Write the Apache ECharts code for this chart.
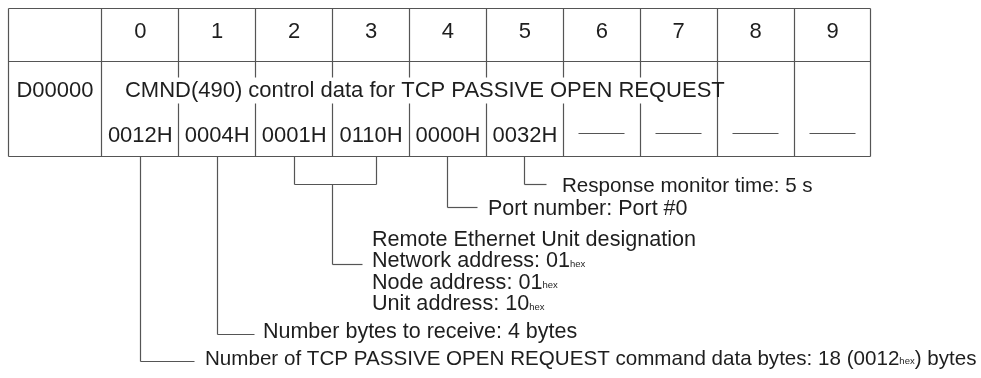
<!DOCTYPE html>
<html><head><meta charset="utf-8">
<script src="https://cdn.jsdelivr.net/npm/echarts@6/dist/echarts.min.js"></script>
<style>html,body{margin:0;padding:0;background:#fff}#c{width:981px;height:378px}</style>
</head><body><div id="c"></div>
<script>
// ---- content ----
const columnLabels = ['0','1','2','3','4','5','6','7','8','9'];
const registerLabel = 'D00000';
const controlDescription = 'CMND(490) control data for TCP PASSIVE OPEN REQUEST';
const descriptionColumns = 8;           // description spans word columns 0..7
const wordValues = ['0012H','0004H','0001H','0110H','0000H','0032H','','','',''];  // '' = unused word (dash)
const annotationColumns = [[0],[1],[2,3],[4],[5]];
const annotationTexts = [
  ['Number of TCP PASSIVE OPEN REQUEST command data bytes: 18 (0012{s|hex}) bytes'],
  ['Number bytes to receive: 4 bytes'],
  ['Remote Ethernet Unit designation','Network address: 01{s|hex}','Node address: 01{s|hex}','Unit address: 10{s|hex}'],
  ['Port number: Port #0'],
  ['Response monitor time: 5 s']
];

// ---- layout (positions / styles) ----
const L = {
  xMin: -1.22, xMax: 10,
  headerBottom: 53, tableBottom: 148,
  headerTextY: 24, line1Y: 83, line2Y: 128, dashY: 125,
  gapTop: 69, gapBottom: 95,
  descX: 0.30, dashHalf: 0.30,
  elbowY:   [353, 326, 256, 199, 176],
  elbowEnd: [1.211, 1.991, 3.395, 4.890, 5.787],
  textX:    [1.341, 2.095, 3.512, 5.020, 5.982],
  textDy:   [-2, -2, -2.5, 2, 2.5],
  noteFs:   [20.6, 21.5, 21.6, 21.5, 20.6],
  blockLineHeight: 21.3, blockAnchorLine: 1,
  bracketY: 176, bracketX: [2.5, 3.577], stemX: 3.005
};
const LINE = '#555555', INK = '#1e1e1e';
const FONT = '"Liberation Sans", Arial, Helvetica, sans-serif';
const TABLE_FS = 22;
const rich = { s: { fontSize: 9.5, fontFamily: FONT, fill: INK, verticalAlign: 'bottom', padding: [0,0,3,0] } };

function crisp(v){ return Math.round(v - 0.5) + 0.5; }

function renderItem(params, api) {
  const P = (x, y) => api.coord([x, y]);
  const ch = [];
  const line = (x1, y1, x2, y2) => {
    const a = P(x1, y1), b = P(x2, y2);
    ch.push({ type: 'line', shape: { x1: crisp(a[0]), y1: crisp(a[1]), x2: crisp(b[0]), y2: crisp(b[1]) },
      style: { stroke: LINE, lineWidth: 1.2 } });
  };
  const text = (str, x, y, align, fs) => {
    const p = P(x, y);
    ch.push({ type: 'text', x: p[0], y: p[1],
      style: { text: str, fontSize: fs, fontFamily: FONT, fill: INK, align: align, verticalAlign: 'middle', rich: rich } });
  };
  const n = columnLabels.length;
  // outer frame
  line(L.xMin, 0, L.xMax, 0);
  line(L.xMin, L.tableBottom, L.xMax, L.tableBottom);
  line(L.xMin, 0, L.xMin, L.tableBottom);
  line(L.xMax, 0, L.xMax, L.tableBottom);
  line(L.xMin, L.headerBottom, L.xMax, L.headerBottom);
  line(0, 0, 0, L.tableBottom);
  for (let i = 1; i < n; i++) {
    if (i < descriptionColumns) {
      line(i, 0, i, L.gapTop);
      line(i, L.gapBottom, i, L.tableBottom);
    } else {
      line(i, 0, i, L.tableBottom);
    }
  }
  // header labels
  columnLabels.forEach((c, i) => text(c, i + 0.5, L.headerTextY, 'center', TABLE_FS));
  // register label and description
  text(registerLabel, (L.xMin + 0) / 2, L.line1Y, 'center', TABLE_FS);
  text(controlDescription, L.descX, L.line1Y, 'left', TABLE_FS);
  // word values
  wordValues.forEach((v, i) => {
    if (v) text(v, i + 0.5, L.line2Y, 'center', TABLE_FS);
    else line(i + 0.5 - L.dashHalf, L.dashY, i + 0.5 + L.dashHalf, L.dashY);
  });
  // annotations
  annotationColumns.forEach((cols, k) => {
    const ey = L.elbowY[k];
    let sx;
    if (cols.length > 1) {
      line(L.bracketX[0], L.tableBottom, L.bracketX[0], L.bracketY);
      line(L.bracketX[1], L.tableBottom, L.bracketX[1], L.bracketY);
      line(L.bracketX[0], L.bracketY, L.bracketX[1], L.bracketY);
      sx = L.stemX;
      line(sx, L.bracketY, sx, ey);
    } else {
      sx = cols[0] + 0.5;
      line(sx, L.tableBottom, sx, ey);
    }
    line(sx, ey, L.elbowEnd[k], ey);
    const lines = annotationTexts[k];
    const anchor = lines.length > 1 ? L.blockAnchorLine : 0;
    lines.forEach((t, j) => {
      text(t, L.textX[k], ey + L.textDy[k] + (j - anchor) * L.blockLineHeight, 'left', L.noteFs[k]);
    });
  });
  return { type: 'group', children: ch };
}

const chart = echarts.init(document.getElementById('c'), null, { renderer: 'canvas' });
chart.setOption({
  animation: false,
  backgroundColor: '#ffffff',
  grid: { left: 8, right: 110, top: 8, bottom: 0 },
  xAxis: { type: 'value', min: L.xMin, max: L.xMax, show: false },
  yAxis: { type: 'value', min: 0, max: 370, inverse: true, show: false },
  series: [{ type: 'custom', renderItem: renderItem, data: [[0, 0]], clip: false, silent: true }]
});
</script>
</body></html>
